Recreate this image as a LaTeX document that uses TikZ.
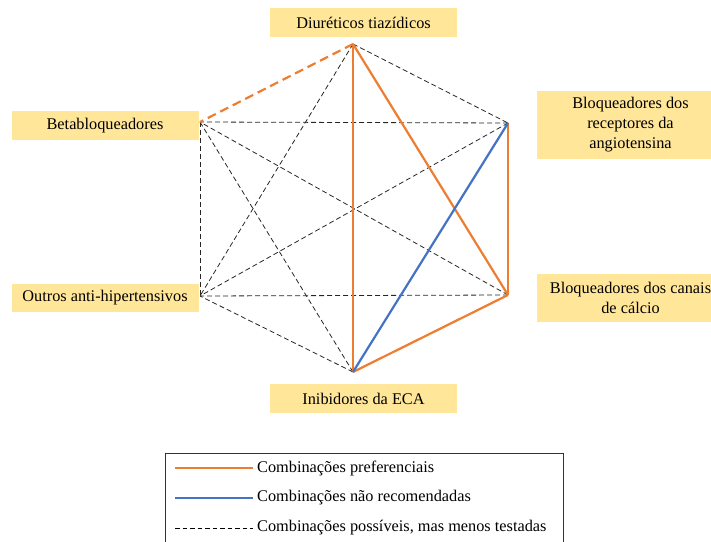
\documentclass[tikz,border=0pt]{standalone}
\usepackage{fontspec}
\setmainfont{Liberation Serif}
\usetikzlibrary{positioning}
\definecolor{prefOrange}{HTML}{ED7D31}
\definecolor{naoBlue}{HTML}{4472C4}
\definecolor{boxGold}{HTML}{FFE699}

\tikzset{
  classe/.style={fill=boxGold, align=center, minimum width=187pt, inner sep=2pt, font=\fontsize{16.3}{20}\selectfont},
  pref/.style={prefOrange, line width=2.2pt},
  naorec/.style={naoBlue, line width=2.2pt},
  possivel/.style={black!85, line width=0.8pt, dash pattern=on 5pt off 3pt},
  legtxt/.style={inner sep=0pt, font=\fontsize{16.3}{19}\selectfont},
}

\begin{document}
\begin{tikzpicture}[x=1pt, y=-1pt]
  \useasboundingbox (0,0) rectangle (711,541);

  % vertices of the hexagon
  \coordinate (dt) at (353,44);
  \coordinate (bra) at (508,123);
  \coordinate (bcc) at (508,295);
  \coordinate (ieca) at (353,372);
  \coordinate (oah) at (200,296);
  \coordinate (bb) at (200,122);

  % the drug classes
  \node [classe, minimum height=29pt] (ndt) at (363.5,22.5) {Diuréticos tiazídicos};
  \node [classe, minimum height=29pt] (nbb) at (105,125.5) {Betabloqueadores};
  \node [classe, minimum height=68pt] (nbra) at (630.5,125) {Bloqueadores dos\\receptores da\\angiotensina};
  \node [classe, minimum height=48pt] (nbcc) at (630.5,298) {Bloqueadores dos canais\\de cálcio};
  \node [classe, minimum height=28pt] (noah) at (105,298) {Outros anti-hipertensivos};
  \node [classe, minimum height=29pt] (nieca) at (363.5,398.5) {Inibidores da ECA};

  % possible combinations
  \draw [possivel] (dt) -- (bra);
  \draw [possivel] (dt) -- (oah);
  \draw [possivel] (bra) -- (bb);
  \draw [possivel] (bra) -- (oah);
  \draw [possivel] (bcc) -- (bb);
  \draw [possivel] (bcc) -- (oah);
  \draw [possivel] (ieca) -- (bb);
  \draw [possivel] (ieca) -- (oah);
  \draw [possivel] (bb) -- (oah);

  % preferred and not recommended
  \draw [pref, dash pattern=on 9pt off 5pt] (dt) -- (bb);
  \draw [pref] (dt) -- (ieca);
  \draw [pref] (dt) -- (bcc);
  \draw [pref] (bra) -- (bcc);
  \draw [pref] (bcc) -- (ieca);
  \draw [naorec] (bra) -- (ieca);

  % legend
  \draw [black!80, line width=0.8pt] (165,545) -- (165,453) -- (563,453) -- (563,545);
  \coordinate (lp1) at (175,468);
  \coordinate (lp2) at (253,468);
  \coordinate (ln1) at (175,498);
  \coordinate (ln2) at (253,498);
  \coordinate (lm1) at (175,528);
  \coordinate (lm2) at (253,528);
  \draw [pref, line width=1.8pt] (lp1) -- (lp2);
  \draw [naorec, line width=1.8pt] (ln1) -- (ln2);
  \draw [black, line width=0.6pt, dash pattern=on 4.5pt off 3pt] (lm1) -- (lm2);
  \node [legtxt, right=4pt of lp2] (tpref) {Combinações preferenciais};
  \node [legtxt, right=4pt of ln2] (tnao) {Combinações não recomendadas};
  \node [legtxt, right=4pt of lm2] (tposs) {Combinações possíveis, mas menos testadas};
\end{tikzpicture}
\end{document}
